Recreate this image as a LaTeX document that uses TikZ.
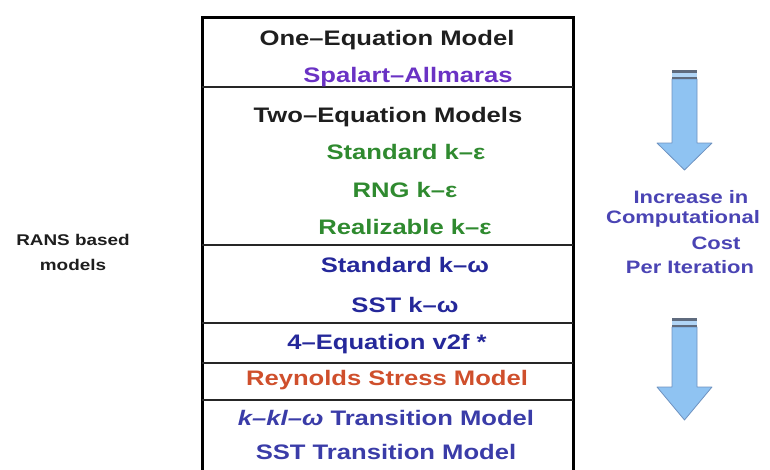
\documentclass[tikz,border=0pt]{standalone}
\usepackage{fontspec}
\newfontfamily\widesans{Liberation Sans}[FakeStretch=1.22]

\definecolor{headgray}{HTML}{1E1E1E}
\definecolor{onepurple}{HTML}{6A32C4}
\definecolor{twogreen}{HTML}{2F8A2F}
\definecolor{omegablue}{HTML}{25289A}
\definecolor{rsmred}{HTML}{CF4F2C}
\definecolor{transblue}{HTML}{3A3CA8}
\definecolor{costblue}{HTML}{4A44B4}
\definecolor{arrowfill}{HTML}{8FC3F2}
\definecolor{arrowedge}{HTML}{6E92C0}
\definecolor{capdark}{HTML}{5F6B7E}

\begin{document}
\begin{tikzpicture}[
        x=1pt, y=-1pt,
        every node/.style={inner sep=0pt, font=\widesans\bfseries\fontsize{21}{24}\selectfont},
        head/.style={anchor=base, text=headgray},
        item/.style={anchor=base},
        side/.style={font=\widesans\bfseries\fontsize{15.5}{25}\selectfont, align=center, text=headgray},
        cost/.style={font=\widesans\bfseries\fontsize{18}{21}\selectfont, text=costblue},
        frame/.style={line width=3pt, black},
        sep/.style={line width=1.6pt, black!85}
    ]
    \useasboundingbox (0,0) rectangle (770,469);

    % table frame and row separators
    \draw[frame] (202,475) -- (202,17) -- (573,17) -- (573,475);
    \foreach \y in {87,245,323,363,400}
    \draw[sep] (202,\y) -- (573,\y);

    % rows
    \node[head] (oneeq) at (387,45) {One–Equation Model};
    \node[item, text=onepurple] (sa) at (408,82) {Spalart–Allmaras};
    \node[head] (twoeq) at (388,122) {Two–Equation Models};
    \node[item, text=twogreen] (stdke) at (406,159) {Standard k–ε};
    \node[item, text=twogreen] (rngke) at (405,197) {RNG k–ε};
    \node[item, text=twogreen] (realke) at (405,234) {Realizable k–ε};
    \node[item, text=omegablue] (stdkw) at (405,272) {Standard k–ω};
    \node[item, text=omegablue] (sstkw) at (405,312) {SST k–ω};
    \node[item, text=omegablue] (vtwof) at (387,349) {4–Equation v2f *};
    \node[item, text=rsmred] (rsm) at (387,385) {Reynolds Stress Model};
    \node[item, text=transblue] (kklw) at (386,425) {\itshape k–kl–ω\upshape{} Transition Model};
    \node[item, text=transblue] (ssttr) at (386,459) {SST Transition Model};

    % left label
    \node[side] (rans) at (73,252) {RANS based\\models};

    % cost arrows
    \foreach \t/\b/\e in {70/143/170, 318/387/420} {
        \draw[arrowedge, fill=arrowfill, line width=0.8pt, line join=round]
            (672,\t+9) -- (697,\t+9) -- (697,\b) -- (712,\b) -- (684.5,\e)
            -- (657,\b) -- (672,\b) -- cycle;
        \fill[capdark] (672,\t) rectangle (697,\t+3);
        \fill[arrowfill!70!white] (672,\t+3) rectangle (697,\t+7);
        \fill[capdark] (672,\t+7) rectangle (697,\t+9);
    }

    % right label
    \node[cost] (inc) at (691,197) {Increase in};
    \node[cost] (comp) at (683,219) {Computational};
    \node[cost] (cst) at (716,243) {Cost};
    \node[cost] (periter) at (690,267) {Per Iteration};

\end{tikzpicture}
\end{document}
